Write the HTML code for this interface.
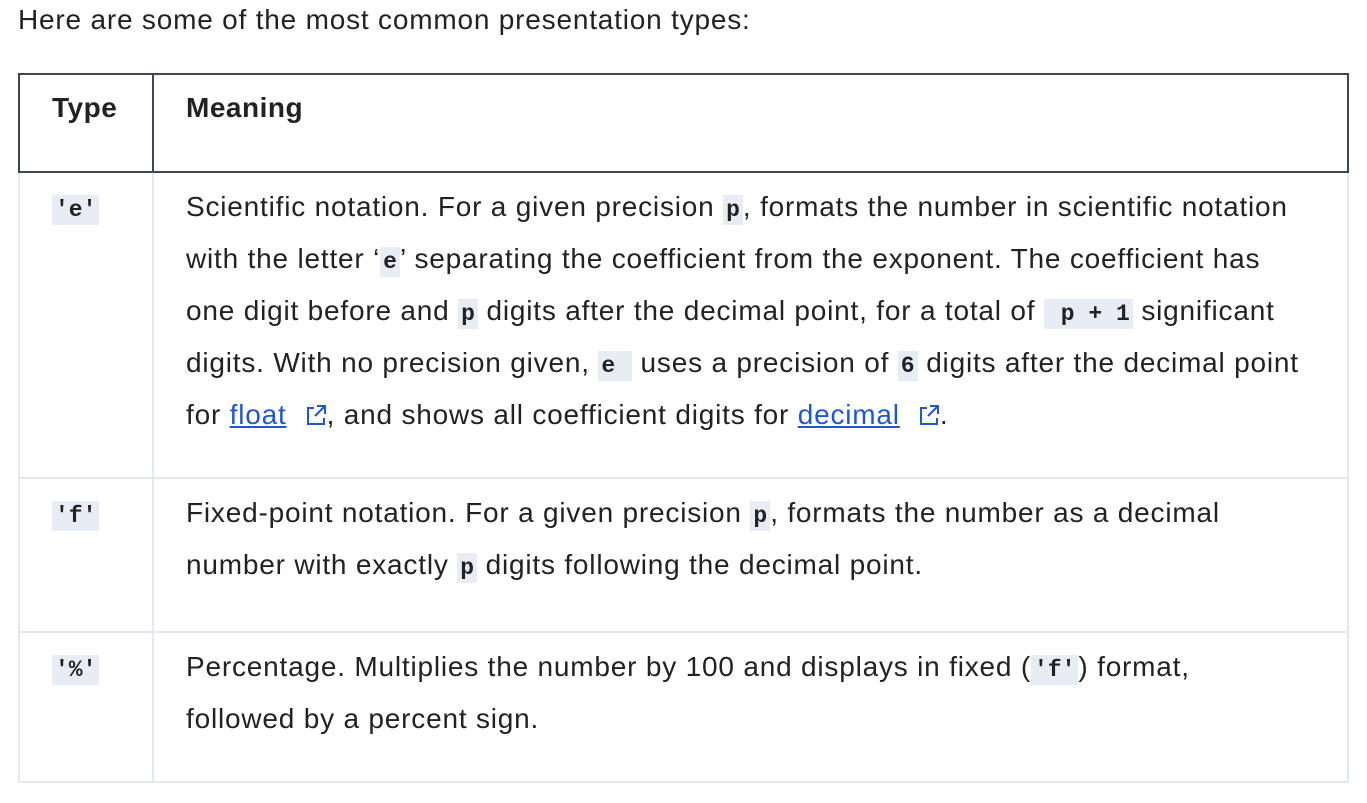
<!DOCTYPE html>
<html><head><meta charset="utf-8"><style>
body{margin:0;width:1367px;height:803px;background:#fff;font-family:"Liberation Sans",sans-serif;color:#222;position:relative;overflow:hidden}
.t{position:absolute;white-space:nowrap;font-size:28px;letter-spacing:0.8px;line-height:30px}
.b{font-weight:bold;letter-spacing:0.5px}
code{font-family:"Liberation Mono",monospace;font-weight:bold;background:#e8ecf5;font-size:23px;letter-spacing:0;padding:2px 3px}
a{color:#2456c8;text-decoration:underline}
.ext{display:inline-block;width:22px;height:22px;margin-left:18px;vertical-align:-2px}
.line{position:absolute;background:#e3e8f1}
.dark{position:absolute;background:#3d4656}
</style></head><body>
<div class="t" style="left:18px;top:5px">Here are some of the most common presentation types:</div>
<div class="dark" style="left:18px;top:73px;width:1331px;height:2px"></div>
<div class="dark" style="left:18px;top:171px;width:1331px;height:2px"></div>
<div class="dark" style="left:18px;top:73px;width:2px;height:100px"></div>
<div class="dark" style="left:1347px;top:73px;width:2px;height:100px"></div>
<div class="dark" style="left:152px;top:73px;width:2px;height:100px"></div>
<div class="line" style="left:18px;top:173px;width:2px;height:610px"></div>
<div class="line" style="left:1347px;top:173px;width:2px;height:610px"></div>
<div class="line" style="left:152px;top:173px;width:2px;height:610px"></div>
<div class="line" style="left:18px;top:477px;width:1331px;height:2px"></div>
<div class="line" style="left:18px;top:631px;width:1331px;height:2px"></div>
<div class="line" style="left:18px;top:781px;width:1331px;height:2px"></div>

<div class="t b" style="left:52px;top:93px">Type</div>
<div class="t b" style="left:186px;top:93px">Meaning</div>

<div class="t" style="left:52px;top:192px"><code>'e'</code></div>
<div class="t" style="left:186px;top:192px">Scientific notation. For a given precision <code>p</code>, formats the number in scientific notation</div>
<div class="t" style="left:186px;top:244px">with the letter ‘<code>e</code>’ separating the coefficient from the exponent. The coefficient has</div>
<div class="t" style="left:186px;top:296px">one digit before and <code>p</code> digits after the decimal point, for a total of <code>&nbsp;p + 1</code> significant</div>
<div class="t" style="left:186px;top:348px">digits. With no precision given, <code>e&nbsp;</code> uses a precision of <code>6</code> digits after the decimal point</div>
<div class="t" style="left:186px;top:400px">for <a>float</a><svg class="ext" viewBox="0 0 22 22"><path d="M9 4H3v16h16v-6M12 2h8v8M20 2L10 12" fill="none" stroke="#2456c8" stroke-width="2"/></svg>, and shows all coefficient digits for <a>decimal</a><svg class="ext" viewBox="0 0 22 22"><path d="M9 4H3v16h16v-6M12 2h8v8M20 2L10 12" fill="none" stroke="#2456c8" stroke-width="2"/></svg>.</div>

<div class="t" style="left:52px;top:498px"><code>'f'</code></div>
<div class="t" style="left:186px;top:498px">Fixed-point notation. For a given precision <code>p</code>, formats the number as a decimal</div>
<div class="t" style="left:186px;top:550px">number with exactly <code>p</code> digits following the decimal point.</div>

<div class="t" style="left:52px;top:652px"><code>'%'</code></div>
<div class="t" style="left:186px;top:652px">Percentage. Multiplies the number by 100 and displays in fixed (<code>'f'</code>) format,</div>
<div class="t" style="left:186px;top:704px">followed by a percent sign.</div>
</body></html>
